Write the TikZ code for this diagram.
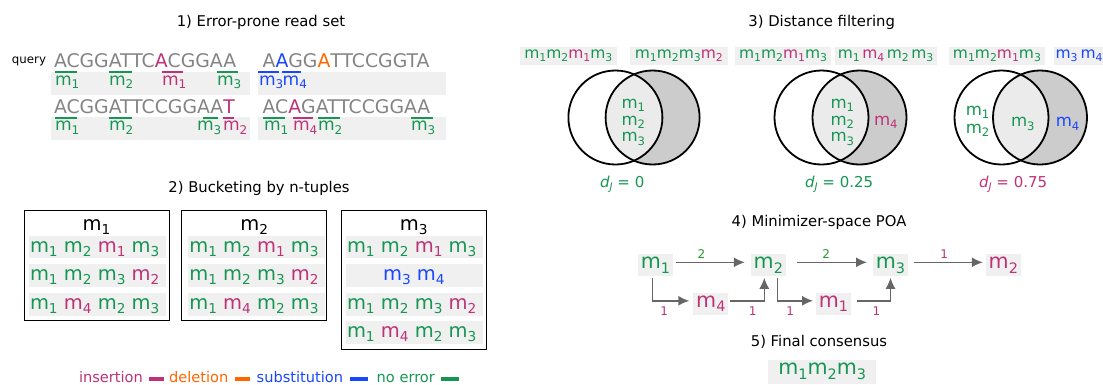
\documentclass[tikz,border=0pt]{standalone}
\usepackage{fontspec}
\setmainfont{DejaVu Sans}
\usetikzlibrary{arrows.meta}
\newcommand\fs[1]{\fontsize{#1pt}{#1pt}\selectfont}
\newcommand\sbs[1]{\raisebox{-0.22em}{\scalebox{0.7}{#1}}}
\newcommand\mi[1]{m\sbs{#1}}
\definecolor{cgreen}{RGB}{22,150,82}
\definecolor{cmag}{RGB}{190,50,120}
\definecolor{corange}{RGB}{255,102,0}
\definecolor{cblue}{RGB}{25,70,255}
\definecolor{cgray}{RGB}{132,132,132}
\definecolor{bandgray}{RGB}{240,240,240}
\definecolor{vdark}{RGB}{204,204,204}
\definecolor{vlight}{RGB}{235,235,235}
\definecolor{agray}{RGB}{102,102,102}
\definecolor{lgreen}{RGB}{40,150,40}
\newcommand\Gm[1]{\textcolor{cgreen}{\mi{#1}}}
\newcommand\Mm[1]{\textcolor{cmag}{\mi{#1}}}
\newcommand\Bm[1]{\textcolor{cblue}{\mi{#1}}}
\newcommand\vennpair[3]{%
  \fill[vdark] (#2,#3) circle[radius=47pt];
  \begin{scope}\clip (#1,#3) circle[radius=47pt];
    \fill[vlight] (#2,#3) circle[radius=47pt];\end{scope}
  \draw[line width=1.8pt] (#1,#3) circle[radius=47pt];
  \draw[line width=1.8pt] (#2,#3) circle[radius=47pt];}
\begin{document}
\begin{tikzpicture}[x=1pt,y=-1pt,
  every node/.style={inner sep=0pt, outer sep=0pt},
  title/.style={anchor=base, font=\fs{14.8}},
  seq/.style={anchor=base west, font=\fs{18.8}, text=cgray},
  lab/.style={anchor=base west, font=\fs{17.1}},
  mbar/.style={line width=2pt},
  bucket/.style={draw=black, line width=1pt},
  row/.style={anchor=base west, font=\fs{19.5}},
  hdr/.style={anchor=base, font=\fs{19.5}},
  vtag/.style={fill=bandgray, font=\fs{15.5}, minimum height=18pt},
  vin/.style={anchor=base west, font=\fs{16.6}},
  dj/.style={anchor=base west, font=\fs{15}},
  poa/.style={fill=bandgray, minimum width=35pt, minimum height=22pt, font=\fs{20.6}},
  arr/.style={draw=agray, line width=1.4pt, -{Latex[length=11pt,width=10pt]}},
  elab/.style={font=\fs{12}},
  leg/.style={anchor=base west, font=\fs{14.6}},
  lbar/.style={line width=4pt}]
\useasboundingbox (0,0) rectangle (1103,384);
% ---------- 1) read set
\node[title] (t1) at (261,26) {1) Error-prone read set};
\fill[bandgray] (51,72) rectangle (250,95);
\fill[bandgray] (258,72) rectangle (446,95);
\fill[bandgray] (51,117) rectangle (250,140);
\fill[bandgray] (258,117) rectangle (446,140);
\node[anchor=base west, font=\fs{11.8}] (query) at (12,63) {query};
\node[seq] (s1) at (54,67) {ACGGATTC\textcolor{cmag}{A}CGGAA};
\node[seq] (s2) at (262.7,67) {A\textcolor{cblue}{A}GG\textcolor{corange}{A}TTCCGGTA};
\node[seq] (s3) at (54,113) {ACGGATTCCGGAA\textcolor{cmag}{T}};
\node[seq] (s4) at (262.7,113) {AC\textcolor{cmag}{A}GATTCCGGAA};
% row 1 labels
\node[lab, text=cgreen] (a1) at (55,85) {\mi1};
\node[lab, text=cgreen] (a2) at (109,85) {\mi2};
\node[lab, text=cmag] (a3) at (162,85) {\mi1};
\node[lab, text=cgreen] (a4) at (217,85) {\mi3};
\node[lab, text=cblue] (a5) at (259,85) {\mi3};
\node[lab, text=cblue] (a6) at (282.7,85) {\mi4};
\draw[mbar, cgreen] (55,72) -- (77,72);
\draw[mbar, cgreen] (109,72) -- (132,72);
\draw[mbar, cmag] (162,72) -- (183,72);
\draw[mbar, cgreen] (217,72) -- (238,72);
\draw[mbar, cblue] (258,72) -- (279,72);
\draw[mbar, cblue] (282,72) -- (301,72);
% row 2 labels
\node[lab, text=cgreen] (b1) at (55,130.5) {\mi1};
\node[lab, text=cgreen] (b2) at (109,130.5) {\mi2};
\node[lab, text=cgreen] (b3) at (197,130.5) {\mi3};
\node[lab, text=cmag] (b4) at (223,130.5) {\mi2};
\node[lab, text=cgreen] (b5) at (264,130.5) {\mi1};
\node[lab, text=cmag] (b6) at (293,130.5) {\mi4};
\node[lab, text=cgreen] (b7) at (318,130.5) {\mi2};
\node[lab, text=cgreen] (b8) at (411,130.5) {\mi3};
\draw[mbar, cgreen] (55,117.5) -- (77,117.5);
\draw[mbar, cgreen] (109,117.5) -- (132,117.5);
\draw[mbar, cgreen] (203,117.5) -- (218,117.5);
\draw[mbar, cmag] (223,117.5) -- (234,117.5);
\draw[mbar, cgreen] (263,117.5) -- (285,117.5);
\draw[mbar, cmag] (293,117.5) -- (313,117.5);
\draw[mbar, cgreen] (318,117.5) -- (340,117.5);
\draw[mbar, cgreen] (411,117.5) -- (433,117.5);
% ---------- 2) bucketing
\node[title] (t2) at (259,192) {2) Bucketing by n-tuples};
\draw[bucket] (24,210) rectangle (169,320.7);
\draw[bucket] (181.7,210) rectangle (326.7,320.7);
\draw[bucket] (341.7,210) rectangle (486,349);
\node[hdr] (h1) at (96.5,230) {\mi1};
\node[hdr] (h2) at (254.2,230) {\mi2};
\node[hdr] (h3) at (413.8,230) {\mi3};
\foreach \bx in {29,188.3,346}{
  \fill[bandgray] (\bx,236) rectangle ++(136.7,22.3);
  \fill[bandgray] (\bx,264) rectangle ++(136.7,22.7);
  \fill[bandgray] (\bx,293.3) rectangle ++(136.7,22.7);}
\fill[bandgray] (346,321) rectangle ++(136.7,22.7);
\node[row] (r11) at (30,252.5) {\Gm1 \Gm2 \Mm1 \Gm3};
\node[row] (r12) at (30,280.5) {\Gm1 \Gm2 \Gm3 \Mm2};
\node[row] (r13) at (30,309.5) {\Gm1 \Mm4 \Gm2 \Gm3};
\node[row] (r21) at (189.3,252.5) {\Gm1 \Gm2 \Mm1 \Gm3};
\node[row] (r22) at (189.3,280.5) {\Gm1 \Gm2 \Gm3 \Mm2};
\node[row] (r23) at (189.3,309.5) {\Gm1 \Mm4 \Gm2 \Gm3};
\node[row] (r31) at (347,252.5) {\Gm1 \Gm2 \Mm1 \Gm3};
\node[row, anchor=base] (r32) at (413.8,280.5) {\Bm3 \Bm4};
\node[row] (r33) at (347,309.5) {\Gm1 \Gm2 \Gm3 \Mm2};
\node[row] (r34) at (347,337.5) {\Gm1 \Mm4 \Gm2 \Gm3};
% legend
\node[leg, text=cmag] (li) at (79,382) {insertion};
\draw[lbar, cmag] (149.3,379) -- (164,379);
\node[leg, text=corange] (ld) at (169,382) {deletion};
\draw[lbar, corange] (235,379) -- (250,379);
\node[leg, text=cblue] (ls) at (256.7,382) {substitution};
\draw[lbar, cblue] (350,379) -- (368.3,379);
\node[leg, text=cgreen] (ln) at (376.7,382) {no error};
\draw[lbar, cgreen] (440.7,379) -- (459.3,379);
% ---------- 3) distance filtering
\node[title] (t3) at (821.7,26) {3) Distance filtering};
\node[vtag, minimum width=97.5pt] (va) at (568.3,56) {\Gm1\Gm2\Mm1\Gm3};
\node[vtag, minimum width=97.5pt] (vb) at (678.8,56) {\Gm1\Gm2\Gm3\Mm2};
\node[vtag, minimum width=96pt] (vc) at (783,56) {\Gm1\Gm2\Mm1\Gm3};
\node[vtag, minimum width=102pt] (vd) at (885.5,56) {\Gm1\hspace{2.5pt}\Mm4\hspace{2.5pt}\Gm2\hspace{2.5pt}\Gm3};
\node[vtag, minimum width=96.3pt] (ve) at (996.9,56) {\Gm1\Gm2\Mm1\Gm3};
\node[vtag, minimum width=50pt] (vf) at (1079,56) {\Bm3\hspace{3pt}\Bm4};
\vennpair{615.4}{652.6}{117.5}
\vennpair{821.5}{859.5}{117.5}
\vennpair{1001.5}{1040}{117.5}
\node[vin, text=cgreen] (v11) at (621.5,108) {\mi1};
\node[vin, text=cgreen] (v12) at (621.5,125) {\mi2};
\node[vin, text=cgreen] (v13) at (621.5,141.5) {\mi3};
\node[vin, text=cgreen] (v21) at (830.5,108) {\mi1};
\node[vin, text=cgreen] (v22) at (830.5,125) {\mi2};
\node[vin, text=cgreen] (v23) at (830.5,141.5) {\mi3};
\node[vin, text=cmag] (v24) at (874,125) {\mi4};
\node[vin, text=cgreen] (v31) at (965.8,115) {\mi1};
\node[vin, text=cgreen] (v32) at (965.8,133) {\mi2};
\node[vin, text=cgreen] (v33) at (1011,126.5) {\mi3};
\node[vin, text=cblue] (v34) at (1055.8,126.5) {\mi4};
\node[dj, text=cgreen] (d1) at (600,187) {\textit{d}\sbs{\textit{J}} = 0};
\node[dj, text=cgreen] (d2) at (805,187) {\textit{d}\sbs{\textit{J}} = 0.25};
\node[dj, text=cmag] (d3) at (979,187) {\textit{d}\sbs{\textit{J}} = 0.75};
% ---------- 4) POA
\node[title] (t4) at (819,226) {4) Minimizer-space POA};
\node[poa, text=cgreen] (n1) at (655.5,265.3) {\mi1};
\node[poa, text=cgreen] (n2) at (768.3,265.3) {\mi2};
\node[poa, text=cgreen] (n3) at (890.5,265.3) {\mi3};
\node[poa, text=cmag] (n6) at (1003.3,265.3) {\mi2};
\node[poa, text=cmag] (n4) at (710.8,303.8) {\mi4};
\node[poa, text=cmag] (n5) at (833.5,303.8) {\mi1};
\draw[arr] ([xshift=3pt,yshift=3pt]n1.east) -- node[elab, text=lgreen, above=4pt, pos=0.37] (e12) {2} ([xshift=-6pt,yshift=3pt]n2.west);
\draw[arr] ([xshift=11pt,yshift=3pt]n2.east) -- node[elab, text=lgreen, above=4pt, pos=0.42] (e23) {2} ([xshift=-6pt,yshift=3pt]n3.west);
\draw[arr] ([xshift=6pt,yshift=3pt]n3.east) -- node[elab, text=cmag, above=4pt, pos=0.44] (e36) {1} ([xshift=-3pt,yshift=3pt]n6.west);
\draw[arr] ([xshift=-3pt,yshift=-2pt]n1.south) |- node[elab, text=cmag, below=6pt, pos=0.66] (e14) {1} ([xshift=-4pt,yshift=3pt]n4.west);
\draw[arr] ([xshift=2pt,yshift=3pt]n4.east) -| node[elab, text=cmag, below=6pt, pos=0.33] (e42) {1} ([xshift=-4pt,yshift=-1.5pt]n2.south);
\draw[arr] ([xshift=9pt,yshift=-2pt]n2.south) |- node[elab, text=cmag, below=6pt, pos=0.68] (e25) {1} ([xshift=-3pt,yshift=3pt]n5.west);
\draw[arr] ([xshift=6pt,yshift=3pt]n5.east) -| node[elab, text=cmag, below=6pt, pos=0.29] (e53) {1} ([yshift=-1.5pt]n3.south);
% ---------- 5) consensus
\node[title] (t5) at (819,346) {5) Final consensus};
\node[poa, minimum width=107.7pt, minimum height=24pt, text=cgreen] (fc) at (822.2,371.5) {\mi1\mi2\mi3};
\end{tikzpicture}
\end{document}
